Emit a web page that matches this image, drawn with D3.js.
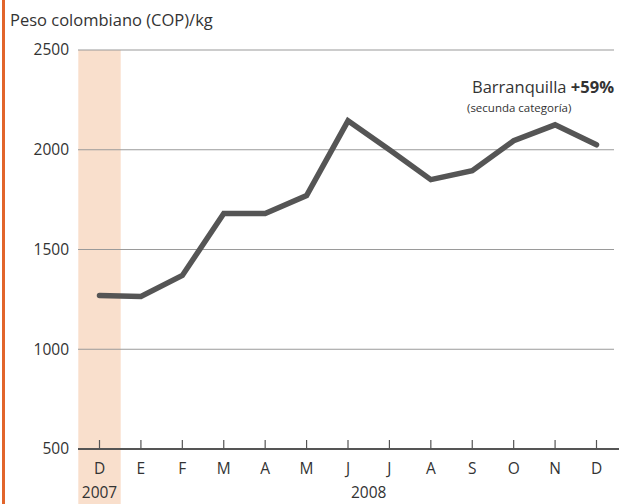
<!DOCTYPE html>
<html>
<head>
<meta charset="utf-8">
<script src="https://cdn.jsdelivr.net/npm/d3@7"></script>
<style>
  html, body { margin: 0; padding: 0; background: #fff; }
  svg { display: block; font-family: "Open Sans", "Noto Sans", sans-serif; }
</style>
</head>
<body>
<svg id="chart" width="619" height="504"></svg>
<script>
// Monthly price, Barranquilla (second category), Dec 2007 – Dec 2008
const months = ["D", "E", "F", "M", "A", "M", "J", "J", "A", "S", "O", "N", "D"];
const prices = [1270, 1265, 1370, 1680, 1680, 1770, 2145, 2000, 1850, 1895, 2045, 2125, 2025];
const yTicks = [500, 1000, 1500, 2000, 2500];
const yearLabels = [
  { year: "2007", from: 0, to: 0 },
  { year: "2008", from: 1, to: 12 }
];

const svg = d3.select("#chart");
const W = 619, H = 504;

// Accent bar on the left edge
svg.append("rect")
  .attr("x", 2).attr("y", 0).attr("width", 3).attr("height", H)
  .attr("fill", "#e2652b");

const x = d3.scalePoint()
  .domain(d3.range(months.length))
  .range([99.5, 596.5]);
const step = x.step();

const y = d3.scaleLinear().domain([500, 2500]).range([449, 50]);

// Shaded column for the 2007 month
svg.append("rect")
  .attr("x", x(0) - step / 2 - 0.5)
  .attr("y", y(2500))
  .attr("width", step + 1)
  .attr("height", H - y(2500))
  .attr("fill", "#f9dfcc");

// Horizontal gridlines
svg.append("g")
  .selectAll("line")
  .data(yTicks.filter(t => t !== 500))
  .join("line")
  .attr("x1", 78).attr("x2", 614)
  .attr("y1", d => y(d)).attr("y2", d => y(d))
  .attr("stroke", "#9a9a9a").attr("stroke-width", 1.2);

// Y tick labels
svg.append("g")
  .selectAll("text")
  .data(yTicks)
  .join("text")
  .attr("x", 69)
  .attr("y", d => y(d))
  .attr("dy", "0.35em")
  .attr("text-anchor", "end")
  .attr("font-size", 15.5)
  .attr("fill", "#333")
  .text(d => d);

// Baseline axis at 500 with upward ticks
const axisG = svg.append("g").attr("transform", `translate(0,${y(500)})`);
axisG.append("line")
  .attr("x1", 78).attr("x2", W)
  .attr("stroke", "#555").attr("stroke-width", 2.2);
axisG.selectAll("line.tick")
  .data(months.map((m, i) => i))
  .join("line")
  .attr("class", "tick")
  .attr("x1", d => x(d)).attr("x2", d => x(d))
  .attr("y1", 0).attr("y2", -9)
  .attr("stroke", "#555").attr("stroke-width", 1.2);

// Month labels
svg.append("g")
  .selectAll("text")
  .data(months)
  .join("text")
  .attr("x", (d, i) => x(i))
  .attr("y", 474)
  .attr("text-anchor", "middle")
  .attr("font-size", 15.5)
  .attr("fill", "#333")
  .text(d => d);

// Year labels
svg.append("g")
  .selectAll("text")
  .data(yearLabels)
  .join("text")
  .attr("x", d => (x(d.from) + x(d.to)) / 2)
  .attr("y", 498)
  .attr("text-anchor", "middle")
  .attr("font-size", 15.5)
  .attr("fill", "#333")
  .text(d => d.year);

// Price line
const line = d3.line()
  .x((d, i) => x(i))
  .y(d => y(d));
svg.append("path")
  .datum(prices)
  .attr("d", line)
  .attr("fill", "none")
  .attr("stroke", "#555")
  .attr("stroke-width", 5.5)
  .attr("stroke-linejoin", "miter")
  .attr("stroke-linecap", "round");

// Unit title
svg.append("text")
  .attr("x", 10).attr("y", 26)
  .attr("font-size", 16.5)
  .attr("fill", "#333")
  .text("Peso colombiano (COP)/kg");

// Series annotation
const ann = svg.append("text")
  .attr("x", 614).attr("y", 93)
  .attr("text-anchor", "end")
  .attr("font-size", 16.5)
  .attr("fill", "#333");
ann.append("tspan").text("Barranquilla ");
ann.append("tspan").attr("font-weight", "bold").text("+59%");

svg.append("text")
  .attr("x", 467).attr("y", 112)
  .attr("font-size", 11.5)
  .attr("fill", "#333")
  .text("(secunda categoría)");
</script>
</body>
</html>
